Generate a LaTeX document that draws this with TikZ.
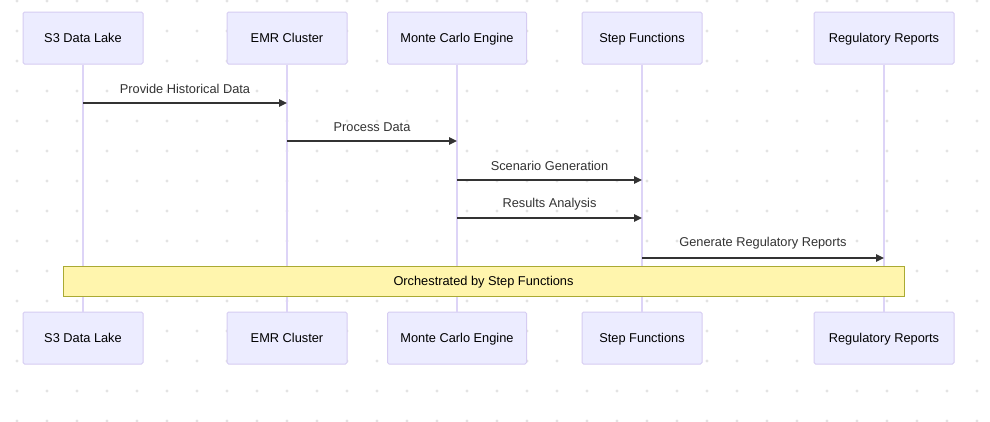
\documentclass[tikz,border=0pt]{standalone}
\usepackage{fontspec}
\setmainfont{Liberation Sans}
\usepackage{xcolor}
\usetikzlibrary{arrows.meta}
\definecolor{actorfill}{HTML}{ECECFF}
\definecolor{actorline}{HTML}{D6CCF2}
\definecolor{lifeline}{HTML}{DDD4F7}
\definecolor{notefill}{HTML}{FFF5AD}
\definecolor{noteline}{HTML}{AAAA33}
\definecolor{msgline}{HTML}{333333}
\definecolor{griddot}{HTML}{E3E3E3}

\begin{document}
\begin{tikzpicture}[x=1pt, y=-1pt,
        actor/.style={draw=actorline, line width=1pt, fill=actorfill, rounded corners=1.5pt, minimum height=52pt, font=\fontsize{12.8}{15}\selectfont, text=black, inner sep=0pt, text height=9.3pt, text depth=0pt},
        lifeln/.style={draw=lifeline, line width=1.2pt},
        msg/.style={-{Triangle[length=8pt, width=7.5pt]}, draw=msgline, line width=1.3pt},
        msglabel/.style={font=\fontsize{12.8}{15}\selectfont, text=msgline, inner sep=0pt},
        noteblock/.style={draw=noteline, line width=1pt, fill=notefill, minimum height=30pt, font=\fontsize{12.8}{15}\selectfont, text=black, inner sep=0pt, text height=9.3pt, text depth=0pt}]
        \useasboundingbox (0, 0) rectangle (990, 421);
        \fill[white] (0, 0) rectangle (990, 421);

        % Dotted background
        \foreach \gx in {17, 47, ..., 987}
            \foreach \gy in {1, 31, ..., 421}
                \fill[griddot] (\gx, \gy) circle (1.6pt);

        % Actors at the top
        \node[actor, minimum width=120pt] (lakeT) at (83, 38) {S3 Data Lake};
        \node[actor, minimum width=120pt] (emrT) at (287, 38) {EMR Cluster};
        \node[actor, minimum width=139pt] (mcT) at (457, 38) {Monte Carlo Engine};
        \node[actor, minimum width=120pt] (sfT) at (642, 38) {Step Functions};
        \node[actor, minimum width=140pt] (repT) at (884, 38) {Regulatory Reports};

        % Actors at the bottom
        \node[actor, minimum width=120pt] (lakeB) at (83, 338) {S3 Data Lake};
        \node[actor, minimum width=120pt] (emrB) at (287, 338) {EMR Cluster};
        \node[actor, minimum width=139pt] (mcB) at (457, 338) {Monte Carlo Engine};
        \node[actor, minimum width=120pt] (sfB) at (642, 338) {Step Functions};
        \node[actor, minimum width=140pt] (repB) at (884, 338) {Regulatory Reports};

        % Lifelines
        \draw[lifeln] (lakeT) -- (lakeB);
        \draw[lifeln] (emrT) -- (emrB);
        \draw[lifeln] (mcT) -- (mcB);
        \draw[lifeln] (sfT) -- (sfB);
        \draw[lifeln] (repT) -- (repB);

        % Message end points
        \coordinate (m1a) at (83, 103);  \coordinate (m1b) at (287, 103);
        \coordinate (m2a) at (287, 141); \coordinate (m2b) at (457, 141);
        \coordinate (m3a) at (457, 180); \coordinate (m3b) at (642, 180);
        \coordinate (m4a) at (457, 218); \coordinate (m4b) at (642, 218);
        \coordinate (m5a) at (642, 258); \coordinate (m5b) at (884, 258);

        % Messages
        \draw[msg] (m1a) -- (m1b);
        \draw[msg] (m2a) -- (m2b);
        \draw[msg] (m3a) -- (m3b);
        \draw[msg] (m4a) -- (m4b);
        \draw[msg] (m5a) -- (m5b);

        % Message labels
        \node[msglabel] (l1) at (185, 89) {Provide Historical Data};
        \node[msglabel] (l2) at (372, 127) {Process Data};
        \node[msglabel] (l3) at (549.5, 166) {Scenario Generation};
        \node[msglabel] (l4) at (549.5, 204) {Results Analysis};
        \node[msglabel] (l5) at (763, 243) {Generate Regulatory Reports};

        % Note
        \node[noteblock, minimum width=841pt] (note) at (483.5, 281) {Orchestrated by Step Functions};
    \end{tikzpicture}
\end{document}
